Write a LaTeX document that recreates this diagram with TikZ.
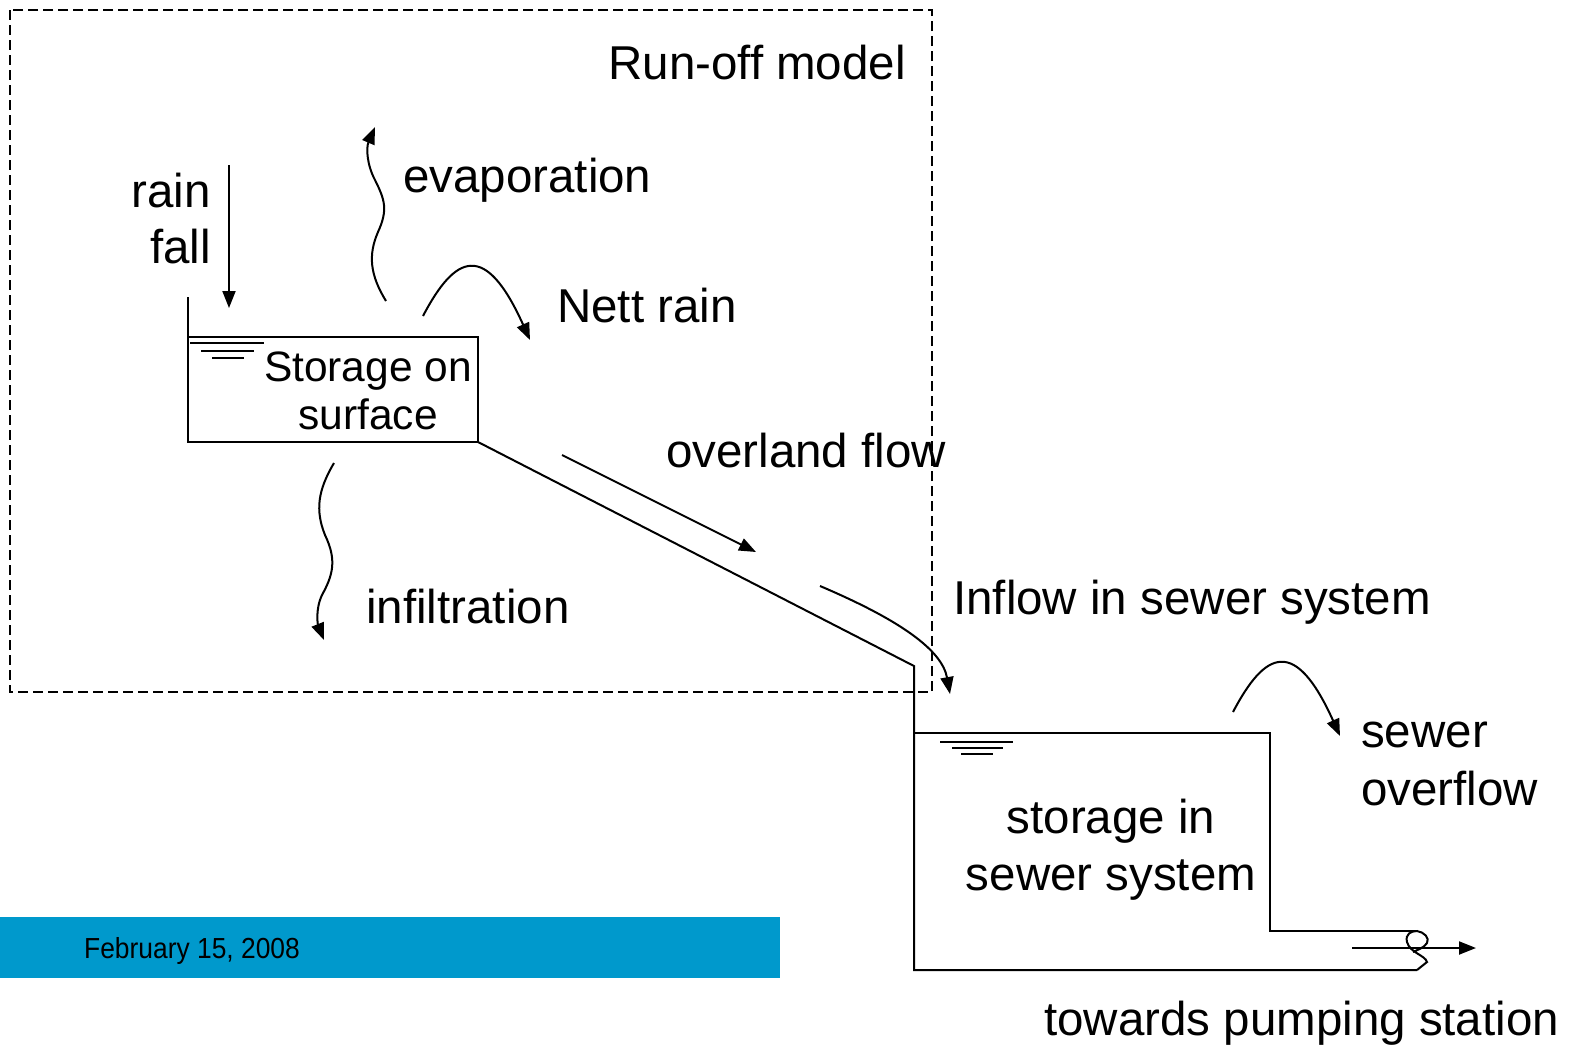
\documentclass[tikz,border=0pt]{standalone}
\usepackage{fontspec}
\setmainfont{Liberation Sans}
\usetikzlibrary{arrows.meta}
\definecolor{barblue}{RGB}{0,153,204}
\tikzset{
  lbl/.style={inner sep=0pt, font=\fontsize{47.5}{56}\selectfont},
  boxlbl/.style={inner sep=0pt, font=\fontsize{42.5}{48}\selectfont},
  wall/.style={line width=2pt},
  flow/.style={line width=2pt, -{Triangle[length=17pt,width=13pt]}},
  water/.style={line width=1.8pt},
  frame/.style={line width=1.8pt, dash pattern=on 10pt off 5pt}
}
\begin{document}
\begin{tikzpicture}[x=1pt, y=-1pt]
\useasboundingbox (0,0) rectangle (1569,1045);

% footer bar with date
\fill[barblue] (0,917) rectangle (780,978);
\node[inner sep=0pt, anchor=base west, font=\fontsize{29}{34}\selectfont, xscale=0.91] (date) at (84,958) {February 15, 2008};

% run-off model boundary
\draw[frame] (10,10) rectangle (932,692);
\node[lbl, anchor=base east] (runoff) at (906,79) {Run-off model};

% surface storage basin
\coordinate (sTopL) at (188,297);
\coordinate (sBotL) at (188,442);
\coordinate (sBotR) at (478,442);
\coordinate (sTopR) at (478,337);
\draw[wall] (sTopL) -- (sBotL) -- (sBotR) -- (sTopR) -- (188,337);
\draw[water] (190,343) -- (264,343);
\draw[water] (201,351) -- (254,351);
\draw[water] (212,358) -- (244,358);
\node[boxlbl, anchor=base] (st1) at (368,381) {Storage on};
\node[boxlbl, anchor=base] (st2) at (368,429) {surface};

% slope down to the sewer storage
\coordinate (kink) at (914,666);
\coordinate (wBot) at (914,970);
\coordinate (wTopR) at (1270,733);
\coordinate (pipeTop) at (1417,931);
\coordinate (pipeBot) at (1417,970);
\draw[wall] (sBotR) -- (kink) -- (wBot) -- (pipeBot);
\draw[wall] (914,733) -- (wTopR) -- (1270,931) -- (pipeTop);
\draw[water] (940,742) -- (1013,742);
\draw[water] (952,748) -- (1003,748);
\draw[water] (961,754) -- (993,754);
\node[lbl, anchor=base] (sw1) at (1111,833) {storage in};
\node[lbl, anchor=base] (sw2) at (1111,890) {sewer system};

% pipe break symbol and outflow
\draw[line width=2pt] (pipeBot) -- (1427,962) .. controls (1425,955) and (1410,953) .. (1407,942)
  .. controls (1405,934) and (1411,931) .. (pipeTop)
  .. controls (1424,932) and (1430,938) .. (1427,943)
  .. controls (1424,948) and (1417,950) .. (1413,952);
\coordinate (outS) at (1352,948);
\coordinate (outE) at (1476,948);
\draw[flow] (outS) -- (outE);
\node[lbl, anchor=base west] (pump) at (1044,1035) {towards pumping station};

% rain fall
\coordinate (rainS) at (229,165);
\coordinate (rainE) at (229,308);
\draw[flow] (rainS) -- (rainE);
\node[lbl, anchor=base east] (rain1) at (211,207) {rain};
\node[lbl, anchor=base east] (rain2) at (211,263) {fall};

% evaporation
\coordinate (evS) at (386,301);
\coordinate (evE) at (375,127);
\draw[flow] (evS) .. controls (370,275) and (368,255) .. (378,232)
  .. controls (388,210) and (385,200) .. (375,180)
  .. controls (367,165) and (366,148) .. (evE);
\node[lbl, anchor=base west] (evap) at (403,192) {evaporation};

% nett rain
\coordinate (nrS) at (423,316);
\coordinate (nrE) at (530,340);
\draw[flow] (nrS) .. controls (455,255) and (485,240) .. (nrE);
\node[lbl, anchor=base west] (nett) at (557,322) {Nett rain};

% infiltration
\coordinate (inS) at (334,463);
\coordinate (inE) at (324,640);
\draw[flow] (inS) .. controls (318,490) and (315,510) .. (325,535)
  .. controls (337,560) and (333,575) .. (322,595)
  .. controls (315,610) and (318,625) .. (inE);
\node[lbl, anchor=base west] (infil) at (366,623) {infiltration};

% overland flow
\coordinate (ovS) at (562,455);
\coordinate (ovE) at (756,552);
\draw[flow] (ovS) -- (ovE);
\node[lbl, anchor=base west] (overland) at (666,467) {overland flow};

% inflow in sewer system
\coordinate (ifS) at (820,586);
\coordinate (ifE) at (950,694);
\draw[flow] (ifS) .. controls (900,620) and (942,650) .. (ifE);
\node[lbl, anchor=base west] (inflow) at (953,614) {Inflow in sewer system};

% sewer overflow
\coordinate (soS) at (1233,712);
\coordinate (soE) at (1340,736);
\draw[flow] (soS) .. controls (1265,651) and (1295,636) .. (soE);
\node[lbl, anchor=base west] (sew1) at (1361,747) {sewer};
\node[lbl, anchor=base west] (sew2) at (1361,805) {overflow};
\end{tikzpicture}
\end{document}
